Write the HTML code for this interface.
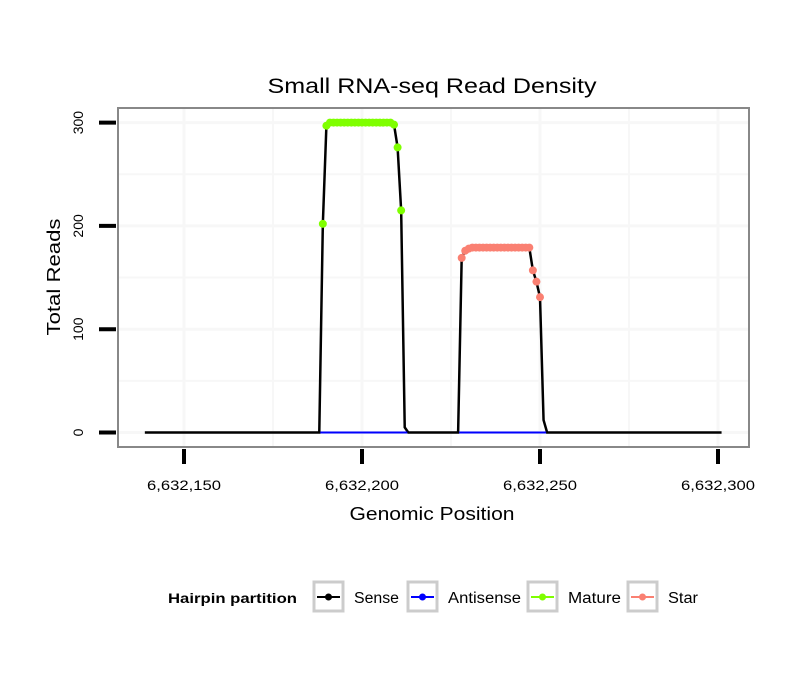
<!DOCTYPE html>
<html><head><meta charset="utf-8"><style>
body{margin:0;background:#fff;}
svg text{font-family:"Liberation Sans",sans-serif;}
</style></head><body>
<svg width="810" height="690" viewBox="0 0 810 690" xmlns="http://www.w3.org/2000/svg">
<text x="432" y="93" font-size="21" text-anchor="middle" textLength="329" lengthAdjust="spacingAndGlyphs">Small RNA-seq Read Density</text>
<rect x="118" y="108" width="631" height="339" fill="#fff"/>
<g id="grid"></g>
<g id="series"></g>
<rect x="118" y="108" width="631" height="339" fill="none" stroke="#888" stroke-width="2"/>
<g id="axes"></g>
<text x="432" y="520" font-size="18" text-anchor="middle" textLength="165" lengthAdjust="spacingAndGlyphs">Genomic Position</text>
<text transform="translate(60,277) rotate(-90)" font-size="18" text-anchor="middle" textLength="117" lengthAdjust="spacingAndGlyphs">Total Reads</text>
<g>
<text x="168" y="603" font-size="14" font-weight="bold" textLength="129" lengthAdjust="spacingAndGlyphs">Hairpin partition</text>
<g id="legend"></g>
</g>
</svg>
<script>
const xTicks=[6632150,6632200,6632250,6632300];
const yTicks=[0,100,200,300];
const xMinor=[6632175,6632225,6632275];
const yMinor=[50,150,250];
const senseStart=6632139, senseEnd=6632301;
const maturePos=[6632188,6632189,6632190,6632191,6632192,6632193,6632194,6632195,6632196,6632197,6632198,6632199,6632200,6632201,6632202,6632203,6632204,6632205,6632206,6632207,6632208,6632209,6632210,6632211,6632212,6632213];
const matureVal=[0,202,297,300,300,300,300,300,300,300,300,300,300,300,300,300,300,300,300,300,300,298,276,215,5,0];
const starPos=[6632227,6632228,6632229,6632230,6632231,6632232,6632233,6632234,6632235,6632236,6632237,6632238,6632239,6632240,6632241,6632242,6632243,6632244,6632245,6632246,6632247,6632248,6632249,6632250,6632251,6632252];
const starVal=[0,169,176,178,179,179,179,179,179,179,179,179,179,179,179,179,179,179,179,179,179,157,146,131,12,0];
const legendLabels=["Sense","Antisense","Mature","Star"];
const legendColors=["#000","#0000ff","#7fff00","#fa8072"];

const NS="http://www.w3.org/2000/svg";
const X=v=>184+(v-6632150)*3.56;
const Y=v=>432.5-v*1.033;
function mk(tag,attrs,parent){const e=document.createElementNS(NS,tag);for(const k in attrs)e.setAttribute(k,attrs[k]);parent.appendChild(e);return e;}
const grid=document.getElementById('grid'),ser=document.getElementById('series'),ax=document.getElementById('axes'),leg=document.getElementById('legend');
xTicks.concat(xMinor).forEach(v=>{const l=mk('line',{x1:X(v),x2:X(v),y1:109,y2:446,stroke:'#f7f7f7','stroke-width':xMinor.includes(v)?2:3},grid);

});
yTicks.concat(yMinor).forEach(v=>{const l=mk('line',{x1:119,x2:748,y1:Y(v),y2:Y(v),stroke:'#f7f7f7','stroke-width':yMinor.includes(v)?2:3},grid);

});
let pts=[[senseStart,0]];
maturePos.forEach((p,i)=>pts.push([p,matureVal[i]]));
starPos.forEach((p,i)=>pts.push([p,starVal[i]]));
pts.push([senseEnd,0]);
const sl=mk('polyline',{points:pts.map(p=>X(p[0])+','+Y(p[1])).join(' '),fill:'none',stroke:'#000','stroke-width':2.5},ser);


[maturePos,starPos].forEach(ps=>{const a=mk('line',{x1:X(ps[0])+1,x2:X(ps[ps.length-1])-1,y1:Y(0),y2:Y(0),stroke:'#0000ff','stroke-width':2},ser);

});
function dots(ps,vs,col,name){ps.forEach((p,i)=>{if(vs[i]<50)return;const c=mk('circle',{cx:X(p),cy:Y(vs[i]),r:4,fill:col},ser);

});}
dots(maturePos,matureVal,'#7fff00','mature-point');
dots(starPos,starVal,'#fa8072','star-point');
xTicks.forEach(v=>{const t=mk('line',{x1:X(v),x2:X(v),y1:449,y2:464,stroke:'#000','stroke-width':4},ax);


const tx=mk('text',{x:X(v),y:490,'font-size':14,'text-anchor':'middle',textLength:74,lengthAdjust:'spacingAndGlyphs'},ax);tx.textContent=v.toLocaleString('en-US');

});
yTicks.forEach(v=>{const t=mk('line',{x1:99,x2:116,y1:Y(v),y2:Y(v),stroke:'#000','stroke-width':4},ax);


const tx=mk('text',{transform:`translate(83,${Y(v)}) rotate(-90)`,'font-size':14,'text-anchor':'middle'},ax);tx.textContent=v;

});
const lx=[312,406,526,626];
const lw=[45,73,53,30];
legendLabels.forEach((lab,i)=>{const g=mk('g',{},leg);


mk('rect',{x:lx[i]+2,y:582,width:29,height:29,fill:'#fff',stroke:'#ccc','stroke-width':3},g);
mk('line',{x1:lx[i]+5,x2:lx[i]+28,y1:597,y2:597,stroke:legendColors[i],'stroke-width':2},g);
mk('circle',{cx:lx[i]+16.5,cy:597,r:3.5,fill:legendColors[i]},g);
const t=mk('text',{x:lx[i]+42,y:603,'font-size':15.5,textLength:lw[i],lengthAdjust:'spacingAndGlyphs'},g);t.textContent=lab;});
</script>
</body></html>
